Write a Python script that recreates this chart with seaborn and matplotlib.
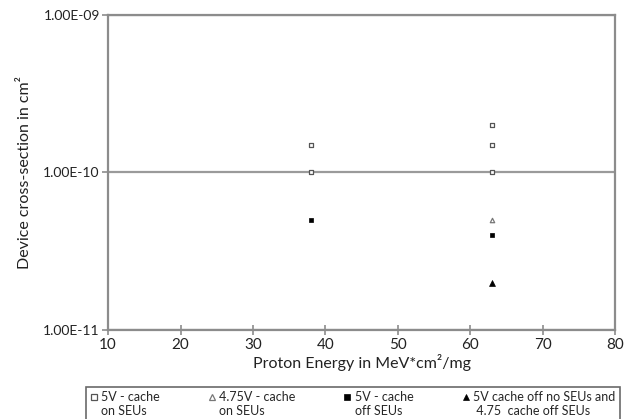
import matplotlib
matplotlib.use("Agg")
import matplotlib.pyplot as plt
import seaborn as sns
import pandas as pd
from matplotlib.ticker import FixedLocator, FuncFormatter, NullLocator
from matplotlib.legend_handler import HandlerLine2D

# data
x_5v_on = [38, 38, 63, 63, 63]
y_5v_on = [1.5e-10, 1.0e-10, 2.0e-10, 1.5e-10, 1.0e-10]
x_475_on = [63]
y_475_on = [5.0e-11]
x_5v_off = [38, 63]
y_5v_off = [5.0e-11, 4.0e-11]
x_off_none = [63]
y_off_none = [2.0e-11]
labels = ["5V - cache\non SEUs", "4.75V - cache\non SEUs", "5V - cache\noff SEUs",
          "5V cache off no SEUs and\n 4.75  cache off SEUs"]
x_ticks = [10, 20, 30, 40, 50, 60, 70, 80]
y_ticks = [1e-11, 1e-10, 1e-9]

sns.set_style("white")
plt.rcParams['font.family'] = ['Lato', 'DejaVu Sans']

fig = plt.figure(figsize=(6.36, 4.19), dpi=100)
ax = fig.add_axes([0.170, 0.2124, 0.797, 0.752])

gray = "#8c8c8c"
styles = [
    (x_5v_on, y_5v_on, "s", "white", "#555555", 9, 0.9),
    (x_475_on, y_475_on, "^", "white", "#777777", 10, 0.9),
    (x_5v_off, y_5v_off, "s", "black", "black", 12, 0.5),
    (x_off_none, y_off_none, "^", "black", "black", 18, 0.5),
]
handles = []
for (xs, ys, m, fc, ec, s, lw), lab in zip(styles, labels):
    df = pd.DataFrame({"x": xs, "y": ys})
    sns.scatterplot(data=df, x="x", y="y", marker=m, s=s, facecolor=fc,
                    edgecolor=ec, linewidth=lw, ax=ax, zorder=3)
    h = plt.Line2D([], [], linestyle="none", marker=m, markersize=3.8,
                   markerfacecolor=fc, markeredgecolor=ec, markeredgewidth=lw)
    handles.append(h)


class UpHandler(HandlerLine2D):
    def create_artists(self, legend, orig_handle, xdescent, ydescent, width, height,
                       fontsize, trans):
        arts = super().create_artists(legend, orig_handle, xdescent, ydescent, width,
                                      height, fontsize, trans)
        for a in arts:
            yd = a.get_ydata()
            a.set_ydata([v + fontsize * 0.62 for v in yd])
        return arts


ax.set_yscale("log")
ax.set_xlim(10, 80)
ax.set_ylim(1e-11, 1e-9)
ax.xaxis.set_major_locator(FixedLocator(x_ticks))
ax.yaxis.set_major_locator(FixedLocator(y_ticks))
ax.yaxis.set_minor_locator(NullLocator())
ax.yaxis.set_major_formatter(FuncFormatter(lambda v, p: f"{v:.2E}"))
ax.grid(axis="y", color="#9a9a9a", linewidth=1.6)
ax.set_axisbelow(True)
for sp in ax.spines.values():
    sp.set_color(gray)
    sp.set_linewidth(1.6)
    sp.set_visible(True)
ax.tick_params(axis="x", direction="inout", length=7, width=1.2, color=gray,
               labelsize=11, pad=2, labelcolor="#222222", bottom=True)
ax.tick_params(axis="y", direction="out", length=4, width=1.2, color=gray,
               labelsize=10, pad=2, labelcolor="#222222", left=True)
ax.set_xlabel("Proton Energy in MeV*cm\u00b2/mg", fontsize=11.5, labelpad=2, color="#222222")
ax.set_ylabel("Device cross-section in cm\u00b2", fontsize=11.5, labelpad=8, color="#222222")

handler_map = {h: UpHandler() for h in handles}
leg = fig.legend(handles, labels, loc="upper left", bbox_to_anchor=(86/636, 1 - 387/419),
                 ncol=4, frameon=True, fontsize=9, handlelength=0.5, handletextpad=0.35,
                 columnspacing=3.9, borderpad=0.35, labelspacing=0.2, borderaxespad=0,
                 fancybox=False, edgecolor="#444444", handler_map=handler_map)
leg.get_frame().set_linewidth(1.2)

fig.savefig("out.png", dpi=100)
